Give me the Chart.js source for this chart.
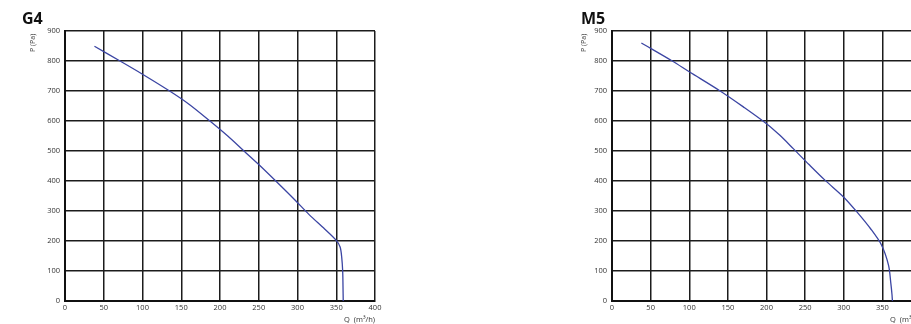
<!DOCTYPE html>
<html>
<head>
<meta charset="utf-8">
<script src="https://cdn.jsdelivr.net/npm/chart.js@4"></script>
<style>
  html, body { margin: 0; padding: 0; background: #fff; }
  body { width: 911px; height: 324px; overflow: hidden; position: relative; font-family: "Open Sans", sans-serif; }
  .box { position: absolute; top: 0; height: 324px; }
  .title { position: absolute; font-weight: bold; font-size: 16px; line-height: 16px; color: #111; }
  .ylab { position: absolute; font-size: 7px; line-height: 7px; color: #333; transform: rotate(-90deg); transform-origin: left top; white-space: nowrap; }
  .xlab { position: absolute; font-size: 7.5px; line-height: 8px; color: #333; white-space: nowrap; }
</style>
</head>
<body>
<div class="box" style="left:0;width:455px"><canvas id="g4"></canvas></div>
<div class="box" style="left:455px;width:520px"><canvas id="m5"></canvas></div>

<div class="title" style="left:22px;top:10px">G4</div>
<div class="ylab" style="left:29px;top:52px">P (Pa)</div>
<div class="xlab" style="left:344px;top:315px">Q&nbsp; (m³/h)</div>

<div class="title" style="left:581px;top:10px">M5</div>
<div class="ylab" style="left:580px;top:52px">P (Pa)</div>
<div class="xlab" style="left:890px;top:315px">Q&nbsp; (m³/h)</div>

<script>
// axis ticks
const qTicks = [0, 50, 100, 150, 200, 250, 300, 350, 400];
const pTicks = [0, 100, 200, 300, 400, 500, 600, 700, 800, 900];

// G4 curve, Q (m³/h) vs P (Pa)
const g4Q = [38, 71, 100, 135, 160, 187, 210, 231, 250, 272, 297, 315, 335, 350, 355, 357, 358.3, 358.7, 359];
const g4P = [849, 800, 756, 700, 656, 600, 550, 500, 455, 400, 336, 288, 240, 202, 180, 147, 100, 50, 0];

// M5 curve
const m5Q = [38, 78, 100, 140, 170, 200, 217, 235, 255, 276, 300, 317, 335, 349, 358, 361, 362.5, 363];
const m5P = [860, 800, 764, 700, 647, 591, 553, 507, 455, 402, 346, 297, 240, 186, 119, 58, 20, 0];

const lineColor = '#3b45a3';
const gridColor = '#1c1c1c';
const tickFont = { family: 'Open Sans', size: 7.5 };

function makeChart(id, qs, ps, yWidth, padRight) {
  const pts = qs.map((q, i) => ({ x: q, y: ps[i] }));
  return new Chart(document.getElementById(id), {
    type: 'scatter',
    data: {
      datasets: [{
        data: pts,
        showLine: true,
        borderColor: lineColor,
        borderWidth: 1.3,
        pointRadius: 0,
        tension: 0.3,
        fill: false
      }]
    },
    options: {
      responsive: true,
      maintainAspectRatio: false,
      animation: false,
      layout: { padding: { top: 31, right: padRight, bottom: 0, left: 0 } },
      plugins: { legend: { display: false }, tooltip: { enabled: false } },
      scales: {
        x: {
          type: 'linear',
          min: qTicks[0],
          max: qTicks[qTicks.length - 1],
          afterBuildTicks: s => { s.ticks = qTicks.map(v => ({ value: v })); },
          afterFit: s => { s.height = 23; },
          ticks: { color: '#333', font: tickFont, padding: 2, maxRotation: 0, autoSkip: false },
          grid: { color: gridColor, lineWidth: 1.5, drawTicks: false },
          border: { color: '#111', width: 2 }
        },
        y: {
          min: pTicks[0],
          max: pTicks[pTicks.length - 1],
          afterBuildTicks: s => { s.ticks = pTicks.map(v => ({ value: v })); },
          afterFit: s => { s.width = yWidth; },
          ticks: { color: '#333', font: tickFont, padding: 5, autoSkip: false },
          grid: { color: gridColor, lineWidth: 1.5, drawTicks: false },
          border: { color: '#111', width: 2 }
        }
      }
    }
  });
}

makeChart('g4', g4Q, g4P, 65, 80);
makeChart('m5', m5Q, m5P, 157, 54);
</script>
</body>
</html>
